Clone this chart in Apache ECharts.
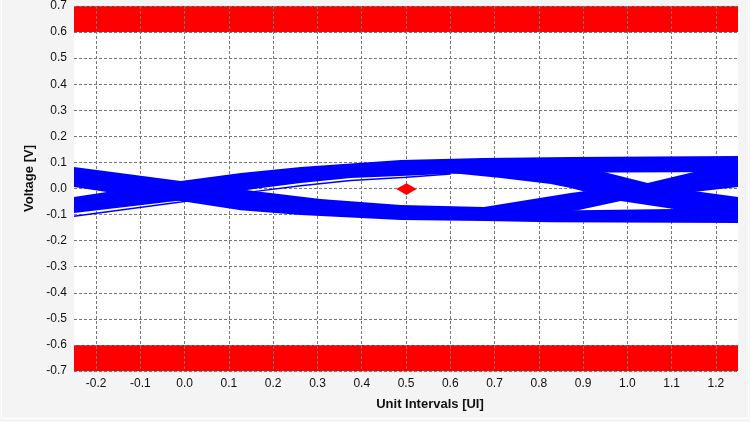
<!DOCTYPE html>
<html><head><meta charset="utf-8">
<script src="https://cdn.jsdelivr.net/npm/echarts@6/dist/echarts.min.js"></script>
<style>html,body{margin:0;padding:0;background:#fff}#c{width:750px;height:422px}</style>
</head><body><div id="c"></div>
<script>
// tick labels
const xTicks = [-0.2, -0.1, 0.0, 0.1, 0.2, 0.3, 0.4, 0.5, 0.6, 0.7, 0.8, 0.9, 1.0, 1.1, 1.2];
const xRange = [-0.25, 1.25];
const yRange = [-0.7, 0.7];
// mask regions (V)
const maskTop = [0.6, 0.7];
const maskBottom = [-0.7, -0.6];
const eyeMask = [[0.478, -0.002], [0.501, 0.020], [0.524, -0.002], [0.501, -0.025]];
// eye-diagram trace bundles: upper and lower envelopes [UI, V]
const rise0Top = [[-0.25, -0.033], [-0.176, -0.013], [-0.009, 0.029], [0.127, 0.059], [0.262, 0.082], [0.488, 0.109], [0.676, 0.117], [0.872, 0.121], [1.25, 0.125]];
const rise0Bottom = [[-0.25, -0.094], [-0.009, -0.046], [0.156, -0.002], [0.262, 0.021], [0.375, 0.040], [0.501, 0.049], [0.601, 0.057], [0.714, 0.059], [1.25, 0.063]];
const fall0Top = [[-0.25, 0.082], [-0.009, 0.029], [0.156, -0.010], [0.307, -0.040], [0.488, -0.063], [0.676, -0.071], [0.888, -0.083], [1.105, -0.079], [1.25, -0.079]];
const fall0Bottom = [[-0.25, 0.006], [-0.176, -0.013], [-0.009, -0.048], [0.127, -0.083], [0.262, -0.102], [0.488, -0.121], [0.676, -0.125], [0.827, -0.129], [1.25, -0.132]];
const fall1Top = [[0.601, 0.075], [0.827, 0.071], [0.947, 0.063], [1.046, 0.021], [1.150, -0.010], [1.25, -0.033]];
const fall1Bottom = [[0.601, 0.059], [0.714, 0.040], [0.827, 0.017], [0.872, 0.002], [0.985, -0.048], [1.105, -0.079], [1.25, -0.090]];
const rise1Top = [[0.676, -0.071], [0.872, -0.017], [1.046, 0.021], [1.150, 0.063], [1.25, 0.075]];
const rise1Bottom = [[0.676, -0.100], [0.827, -0.090], [0.888, -0.083], [0.985, -0.048], [1.150, -0.013], [1.25, 0.006]];
const strayTrace = [[-0.25, -0.106], [-0.009, -0.052], [0.156, -0.012], [0.262, 0.011], [0.375, 0.031], [0.501, 0.043], [0.601, 0.056]];

const BLUE = '#0000ff', RED = '#ff0000';
function polySeries(pts, color, z) {
  return {
    type: 'custom', coordinateSystem: 'cartesian2d', z: z, silent: true,
    data: pts, encode: { x: 0, y: 1 },
    renderItem: function (params, api) {
      if (params.dataIndex !== 0) return;
      return { type: 'polygon', shape: { points: pts.map(function (p) { return api.coord(p); }) }, style: { fill: color } };
    }
  };
}
function band(top, bottom) { return polySeries(top.concat(bottom.slice().reverse()), BLUE, 10); }
function maskRect(r) {
  return polySeries([[xRange[0], r[0]], [xRange[1], r[0]], [xRange[1], r[1]], [xRange[0], r[1]]], RED, 1);
}
const fmt = v => (Math.abs(v) < 1e-9 ? 0 : v).toFixed(1);
const gridLine = { show: true, lineStyle: { color: '#777777', width: 1, type: [3, 2] } };
const labelStyle = { color: '#111', fontSize: 12, fontFamily: 'Liberation Sans, Arial, sans-serif' };
const nameStyle = { color: '#111', fontSize: 13, fontWeight: 'bold', fontFamily: 'Liberation Sans, Arial, sans-serif' };

const chart = echarts.init(document.getElementById('c'), null, { renderer: 'canvas' });
chart.setOption({
  backgroundColor: '#f4f4f4',
  animation: false,
  graphic: { elements: [{ type: 'rect', z: 100, silent: true, shape: { x: 1.5, y: -3, width: 747, height: 421.5 }, style: { fill: 'none', stroke: '#ffffff', lineWidth: 1 } }] },
  grid: { left: 74, right: 12, top: 6, bottom: 51, show: true, backgroundColor: '#ffffff', borderWidth: 0, z: 0 },
  xAxis: {
    type: 'value', min: xRange[0], max: xRange[1], z: 5,
    name: 'Unit Intervals [UI]', nameLocation: 'middle', nameGap: 27,
    nameTextStyle: Object.assign({ padding: [0, 0, 0, 48] }, nameStyle),
    axisLine: { show: false },
    axisTick: { show: false, customValues: xTicks },
    axisLabel: Object.assign({ customValues: xTicks, formatter: fmt, margin: 7 }, labelStyle),
    splitLine: gridLine
  },
  yAxis: {
    type: 'value', min: yRange[0], max: yRange[1], interval: 0.1, z: 5,
    name: 'Voltage [V]', nameLocation: 'middle', nameGap: 36,
    nameTextStyle: Object.assign({ padding: [0, 0, 0, 20] }, nameStyle),
    axisLine: { show: false },
    axisTick: { show: false },
    axisLabel: Object.assign({ formatter: fmt, margin: 7 }, labelStyle),
    splitLine: gridLine
  },
  series: [
    maskRect(maskTop),
    maskRect(maskBottom),
    band(rise0Top, rise0Bottom),
    band(fall0Top, fall0Bottom),
    band(fall1Top, fall1Bottom),
    band(rise1Top, rise1Bottom),
    { type: 'line', data: strayTrace, z: 10, symbol: 'none', silent: true, lineStyle: { color: BLUE, width: 1.5 } },
    polySeries(eyeMask, RED, 12)
  ]
});
</script></body></html>
